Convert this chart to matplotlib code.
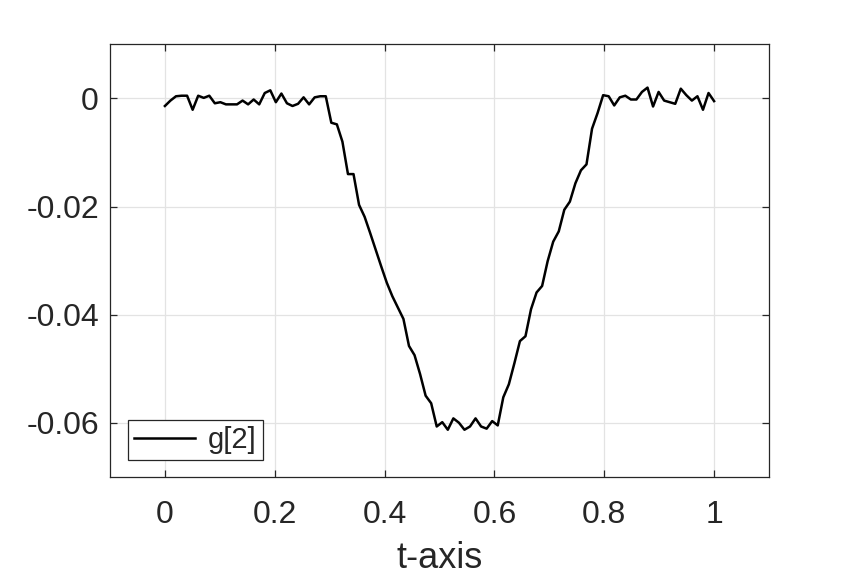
import matplotlib
matplotlib.use("Agg")
import matplotlib.pyplot as plt
import numpy as np

# Sampled signal g[2] on t in [0, 1] (100 samples)
t = np.linspace(0, 1, 100)
g2 = [
    -0.0014, -0.0004, 0.0004, 0.0005, 0.0005, -0.0021, 0.0005, 0.0001, 0.0005, -0.0009,
    -0.0007, -0.0011, -0.0011, -0.0011, -0.0004, -0.0011, -0.0002, -0.0011, 0.0010, 0.0015,
    -0.0007, 0.0009, -0.0009, -0.0014, -0.0010, 0.0002, -0.0011, 0.0002, 0.0004, 0.0004,
    -0.0045, -0.0048, -0.0080, -0.0140, -0.0140, -0.0197, -0.0219, -0.0249, -0.0280, -0.0311,
    -0.0341, -0.0366, -0.0387, -0.0408, -0.0458, -0.0475, -0.0510, -0.0550, -0.0564, -0.0607,
    -0.0599, -0.0613, -0.0592, -0.0600, -0.0613, -0.0607, -0.0592, -0.0607, -0.0611, -0.0597,
    -0.0605, -0.0553, -0.0529, -0.0490, -0.0449, -0.0440, -0.0390, -0.0359, -0.0347, -0.0301,
    -0.0265, -0.0246, -0.0206, -0.0191, -0.0157, -0.0133, -0.0122, -0.0056, -0.0027, 0.0006,
    0.0004, -0.0013, 0.0002, 0.0005, -0.0002, -0.0002, 0.0012, 0.0020, -0.0015, 0.0012,
    -0.0004, -0.0007, -0.0010, 0.0018, 0.0006, -0.0004, 0.0004, -0.0021, 0.0010, -0.0005,
]

xticks = [0, 0.2, 0.4, 0.6, 0.8, 1]
xticklabels = ["0", "0.2", "0.4", "0.6", "0.8", "1"]
yticks = [-0.06, -0.04, -0.02, 0]
yticklabels = ["-0.06", "-0.04", "-0.02", "0"]

plt.rcParams["font.family"] = ["Liberation Sans", "DejaVu Sans"]
axcol = "#262626"

fig = plt.figure(figsize=(8.5, 5.8), dpi=100)
ax = fig.add_axes([0.1294, 0.178, 0.7753, 0.7455])

ax.plot(t, g2, color="black", linewidth=1.8, label="g[2]")

ax.set_xlim(-0.1, 1.1)
ax.set_ylim(-0.07, 0.01)
ax.set_xticks(xticks)
ax.set_xticklabels(xticklabels)
ax.set_yticks(yticks)
ax.set_yticklabels(yticklabels)

ax.grid(True, color="#e3e3e3", linewidth=0.9)
ax.set_axisbelow(True)
for s in ax.spines.values():
    s.set_color(axcol)
    s.set_linewidth(0.9)
ax.tick_params(direction="in", length=5, width=0.9, color=axcol,
               labelcolor=axcol, labelsize=23, top=True, right=True)
ax.tick_params(axis="x", pad=17)
ax.tick_params(axis="y", pad=8)

ax.set_xlabel("t-axis", fontsize=26, color=axcol, labelpad=8)

leg = ax.legend(loc="lower left", bbox_to_anchor=(0.027, 0.039), borderaxespad=0,
                fontsize=21, fancybox=False, framealpha=1, edgecolor=axcol,
                borderpad=0.2, handlelength=2.1, handletextpad=0.45)
leg.get_frame().set_linewidth(0.9)
for txt in leg.get_texts():
    txt.set_color(axcol)

fig.savefig("out.png", dpi=100)
